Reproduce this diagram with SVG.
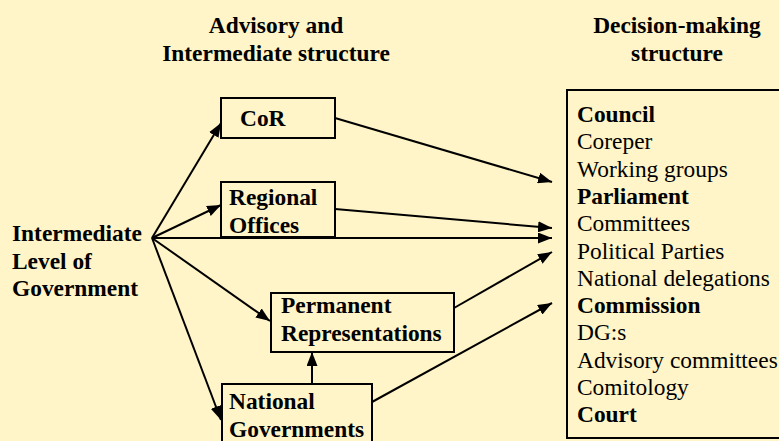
<svg xmlns="http://www.w3.org/2000/svg" width="779" height="441" viewBox="0 0 779 441">
<style>
.t{font-family:"Times New Roman","Liberation Serif",Times,Tinos,serif;font-size:23.4px;fill:#000}
.b{font-weight:bold}
.box{fill:#FFF5C8;stroke:#000;stroke-width:2}
.c{stroke:#000;stroke-width:2;fill:none;marker-end:url(#ah)}
</style>
<defs>
<marker id="ah" markerUnits="userSpaceOnUse" markerWidth="15" markerHeight="11" refX="14" refY="5.5" orient="auto">
<path d="M0,0 L14,5.5 L0,11 z" fill="#000"/>
</marker>
</defs>
<rect width="779" height="441" fill="#FFF5C8"/>
<g id="titles">
<text class="t b" x="276" y="33" text-anchor="middle">Advisory and</text>
<text class="t b" x="276" y="61" text-anchor="middle">Intermediate structure</text>
<text class="t b" x="677" y="33" text-anchor="middle">Decision-making</text>
<text class="t b" x="677" y="61" text-anchor="middle">structure</text>
</g>
<g id="ilg">
<text class="t b" x="12" y="241">Intermediate</text>
<text class="t b" x="12" y="268.5">Level of</text>
<text class="t b" x="12" y="296">Government</text>
</g>
<g id="cor">
<rect class="box" x="221" y="98" width="114" height="40"/>
<text class="t b" x="240" y="126">CoR</text>
</g>
<g id="regional">
<rect class="box" x="221" y="182" width="114" height="55"/>
<text class="t b" x="229" y="205">Regional</text>
<text class="t b" x="229" y="233">Offices</text>
</g>
<g id="permrep">
<rect class="box" x="271" y="293" width="183" height="59"/>
<text class="t b" x="281" y="313">Permanent</text>
<text class="t b" x="281" y="341">Representations</text>
</g>
<g id="natgov">
<rect class="box" x="222" y="384" width="150" height="70"/>
<text class="t b" x="229" y="409">National</text>
<text class="t b" x="229" y="437">Governments</text>
</g>
<g id="decision">
<rect class="box" x="567" y="90" width="230" height="348"/>
<text class="t b" x="577" y="122">Council</text>
<text class="t" x="577" y="149.3">Coreper</text>
<text class="t" x="577" y="176.6">Working groups</text>
<text class="t b" x="577" y="203.9">Parliament</text>
<text class="t" x="577" y="231.2">Committees</text>
<text class="t" x="577" y="258.5">Political Parties</text>
<text class="t" x="577" y="285.8">National delegations</text>
<text class="t b" x="577" y="313.1">Commission</text>
<text class="t" x="577" y="340.4">DG:s</text>
<text class="t" x="577" y="367.7">Advisory committees</text>
<text class="t" x="577" y="395">Comitology</text>
<text class="t b" x="577" y="422.3">Court</text>
</g>
<g id="connectors">
<line class="c" x1="152" y1="238" x2="221" y2="123"/>
<line class="c" x1="152" y1="238" x2="221" y2="205"/>
<line class="c" x1="152" y1="238" x2="270" y2="321"/>
<line class="c" x1="152" y1="238" x2="221" y2="420"/>
<line class="c" x1="152" y1="238" x2="552" y2="238"/>
<line class="c" x1="335" y1="118" x2="552" y2="182"/>
<line class="c" x1="335" y1="209" x2="552" y2="228"/>
<line class="c" x1="454" y1="308" x2="552" y2="252"/>
<line class="c" x1="372" y1="402" x2="552" y2="303"/>
<line class="c" x1="312" y1="384" x2="312" y2="352"/>
</g>
</svg>
